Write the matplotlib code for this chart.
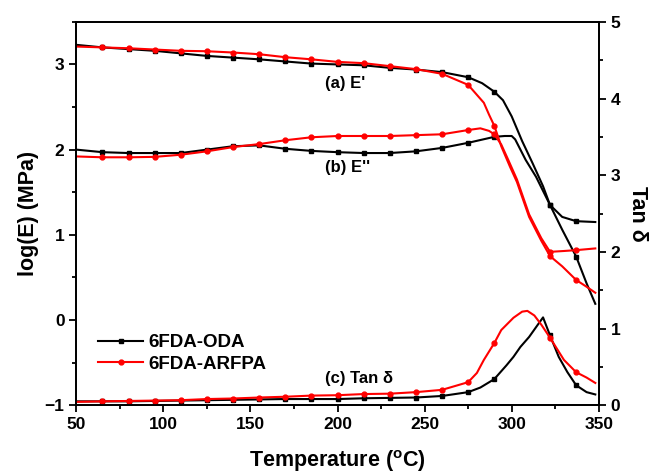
import matplotlib
matplotlib.use("Agg")
import matplotlib.pyplot as plt
from matplotlib.ticker import MultipleLocator

plt.rcParams['font.family'] = ['Liberation Sans', 'DejaVu Sans']
plt.rcParams['font.weight'] = 'bold'
plt.rcParams['mathtext.fontset'] = 'custom'
plt.rcParams['mathtext.rm'] = 'Liberation Sans:bold'

# temperatures (C) shared by the low-temperature part of every curve
t_lo = [50, 65, 80, 95, 110, 125, 140, 155, 170, 185, 200, 215, 230, 245, 260, 275]

# temperatures carrying a marker
mark_t = [65, 80, 95, 110, 125, 140, 155, 170, 185, 200, 215, 230, 245, 260, 275, 290, 322, 337]

# 6FDA-ODA
oda_e1_t = t_lo + [283, 290, 295, 300, 306, 312, 318, 322, 329, 337, 343, 348]
oda_e1 = [3.23, 3.20, 3.18, 3.16, 3.13, 3.10, 3.08, 3.06, 3.035, 3.01, 3.00, 2.99, 2.96, 2.94, 2.91, 2.85,
          2.78, 2.68, 2.58, 2.39, 2.10, 1.84, 1.57, 1.35, 1.06, 0.745, 0.43, 0.19]
oda_e2_t = t_lo + [290, 296, 300, 302, 308, 314, 322, 329, 337, 348]
oda_e2 = [2.00, 1.97, 1.96, 1.96, 1.96, 2.00, 2.04, 2.05, 2.01, 1.985, 1.97, 1.96, 1.96, 1.98, 2.02, 2.08,
          2.15, 2.16, 2.16, 2.12, 1.88, 1.68, 1.35, 1.21, 1.16, 1.15]
oda_tan_t = t_lo + [282, 290, 297, 301, 305, 310, 315, 318, 322, 327, 332, 337, 343, 348]
oda_tan = [0.05, 0.05, 0.05, 0.055, 0.06, 0.065, 0.07, 0.075, 0.08, 0.08, 0.08, 0.09, 0.095, 0.10, 0.12, 0.17,
           0.23, 0.34, 0.52, 0.63, 0.76, 0.89, 1.05, 1.145, 0.91, 0.63, 0.43, 0.26, 0.17, 0.14]

# 6FDA-ARFPA
arf_e1_t = t_lo + [284, 287, 290, 294, 299, 303, 310, 317, 322, 329, 337, 343, 348]
arf_e1 = [3.21, 3.20, 3.19, 3.175, 3.16, 3.155, 3.14, 3.12, 3.085, 3.06, 3.03, 3.015, 2.98, 2.945, 2.89, 2.76,
          2.55, 2.41, 2.28, 2.04, 1.80, 1.62, 1.21, 0.93, 0.75, 0.63, 0.47, 0.39, 0.32]
arf_e2_t = t_lo + [282, 287, 290, 294, 298, 303, 310, 317, 322, 330, 337, 348]
arf_e2 = [1.92, 1.91, 1.91, 1.915, 1.94, 1.98, 2.03, 2.065, 2.11, 2.145, 2.16, 2.16, 2.16, 2.17, 2.18, 2.23,
          2.25, 2.22, 2.18, 2.06, 1.88, 1.65, 1.24, 0.96, 0.80, 0.81, 0.82, 0.84]
arf_tan_t = t_lo + [280, 284, 290, 294, 301, 306, 309, 313, 317, 322, 330, 337, 343, 348]
arf_tan = [0.043, 0.05, 0.055, 0.06, 0.065, 0.08, 0.087, 0.10, 0.11, 0.125, 0.13, 0.145, 0.15, 0.17, 0.20, 0.30,
           0.42, 0.59, 0.81, 0.98, 1.14, 1.22, 1.23, 1.17, 1.05, 0.88, 0.59, 0.43, 0.36, 0.29]


def marks(tt):
    return [i for i, t in enumerate(tt) if t in mark_t]


fig = plt.figure(figsize=(6.58, 4.75), dpi=100)
ax = fig.add_axes([0.116, 0.147, 0.794, 0.807])
ax2 = ax.twinx()

blk = dict(color='black', marker='s', ms=3, lw=1.5)
red = dict(color='#ff0000', marker='o', ms=3.5, lw=1.5)

ax.plot(oda_e1_t, oda_e1, markevery=marks(oda_e1_t), **blk)
ax.plot(oda_e2_t, oda_e2, markevery=marks(oda_e2_t), **blk)
ax.plot(arf_e1_t, arf_e1, markevery=marks(arf_e1_t), **red)
ax.plot(arf_e2_t, arf_e2, markevery=marks(arf_e2_t), **red)
l1, = ax2.plot(oda_tan_t, oda_tan, markevery=marks(oda_tan_t), **blk)
l2, = ax2.plot(arf_tan_t, arf_tan, markevery=marks(arf_tan_t), **red)

ax.set_xlim(50, 350)
ax.set_ylim(-1, 3.5)
ax2.set_ylim(0, 5)

ax.xaxis.set_major_locator(MultipleLocator(50))
ax.xaxis.set_minor_locator(MultipleLocator(25))
ax.yaxis.set_major_locator(MultipleLocator(1))
ax.yaxis.set_minor_locator(MultipleLocator(0.5))
ax2.yaxis.set_major_locator(MultipleLocator(1))
ax2.yaxis.set_minor_locator(MultipleLocator(0.5))

for a in (ax, ax2):
    a.tick_params(which='major', direction='out', length=5, width=1.3, labelsize=12.5)
    a.tick_params(which='minor', direction='out', length=3, width=1.3)
    for s in a.spines.values():
        s.set_linewidth(1.3)

ax.set_xlabel(r'Temperature ($^\mathregular{o}$C)', fontsize=15.5, fontweight='bold', labelpad=12)
ax.set_ylabel('log(E) (MPa)', fontsize=15.5, fontweight='bold')
ax2.set_ylabel('Tan δ', fontsize=15.5, fontweight='bold', rotation=270, labelpad=20)

ax.text(193, 2.78, "(a) E'", fontsize=12, fontweight='bold', va='center')
ax.text(193, 1.79, "(b) E''", fontsize=12, fontweight='bold', va='center')
ax.text(193, -0.69, "(c) Tan δ", fontsize=12, fontweight='bold', va='center')

ax2.legend([l1, l2], ['6FDA-ODA', '6FDA-ARFPA'], loc='center left', bbox_to_anchor=(0.01, 0.135),
           frameon=False, handlelength=2.4, handletextpad=0.25, labelspacing=0.25,
           prop={'weight': 'bold', 'size': 13.5})

fig.savefig('out.png', dpi=100)
